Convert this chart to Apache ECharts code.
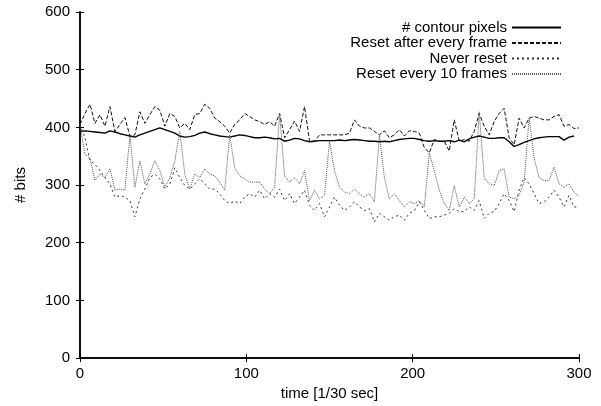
<!DOCTYPE html>
<html>
<head>
    <meta charset="UTF-8" />
    <title>bits per frame</title>
    <style>
        * { margin: 0; padding: 0; }
        html, body { width: 601px; height: 406px; background: #fff; }
        #chart { width: 601px; height: 406px; }
    </style>
</head>
<body>
    <div id="chart"></div>
    <script src="https://cdn.jsdelivr.net/npm/echarts@6/dist/echarts.min.js"></script>
    <script type="text/javascript">
        // samples every 3 time units
        var time = [];
        for (var t = 0; t <= 300; t += 3) time.push(t);

        var contourPixels = [
            393, 394, 393, 392, 391, 390, 394, 392, 389, 387,
            385, 383, 387, 390, 393, 396, 399, 396, 393, 390,
            385, 383, 384, 386, 390, 392, 389, 387, 385, 384,
            383, 385, 387, 386, 384, 382, 382, 383, 382, 380,
            381, 376, 378, 381, 380, 377, 375, 376, 377, 377,
            377, 377, 378, 377, 378, 379, 378, 377, 376, 376,
            375, 376, 375, 377, 379, 380, 381, 381, 379, 377,
            376, 377, 376, 376, 377, 375, 378, 375, 380, 383,
            385, 383, 381, 381, 382, 382, 375, 367, 370, 374,
            377, 380, 382, 383, 384, 384, 384, 378, 383, 385
        ];
        var resetEveryFrame = [
            405, 424, 440, 407, 422, 402, 436, 393, 405, 417,
            385, 387, 427, 407, 422, 436, 430, 402, 424, 419,
            399, 407, 396, 422, 424, 440, 433, 416, 410, 402,
            390, 405, 413, 424, 419, 413, 410, 405, 410, 402,
            424, 382, 396, 411, 393, 436, 376, 376, 387, 387,
            387, 387, 387, 387, 390, 413, 402, 399, 399, 393,
            387, 394, 382, 387, 396, 385, 394, 393, 390, 365,
            356, 379, 376, 376, 359, 413, 376, 379, 376, 393,
            424, 402, 387, 410, 424, 433, 382, 370, 416, 399,
            416, 419, 416, 413, 413, 419, 422, 402, 405, 398,
            399
        ];
        var neverReset = [
            405, 382, 342, 336, 325, 313, 302, 279, 282, 279,
            273, 245, 276, 293, 313, 319, 311, 293, 302, 330,
            313, 299, 293, 302, 311, 302, 293, 293, 285, 273,
            268, 272, 268, 279, 285, 279, 291, 276, 285, 279,
            293, 273, 285, 268, 279, 291, 265, 256, 268, 245,
            262, 279, 265, 256, 262, 271, 262, 256, 259, 236,
            251, 245, 239, 245, 248, 239, 251, 256, 271, 256,
            242, 245, 245, 248, 251, 259, 254, 254, 262, 256,
            273, 242, 251, 254, 268, 285, 273, 254, 291, 313,
            302, 285, 268, 271, 279, 291, 279, 262, 282, 262,
            262
        ];
        var resetEvery10 = [
            405, 353, 347, 308, 319, 313, 328, 291, 293, 291,
            387, 296, 342, 302, 319, 342, 325, 296, 313, 342,
            393, 319, 293, 319, 313, 328, 319, 316, 305, 291,
            387, 330, 316, 311, 305, 305, 305, 293, 285, 296,
            424, 316, 305, 313, 302, 325, 273, 291, 276, 282,
            376, 325, 296, 288, 285, 293, 285, 279, 285, 271,
            387, 313, 276, 285, 273, 262, 271, 268, 273, 262,
            356, 325, 291, 268, 256, 299, 262, 279, 268, 276,
            427, 313, 302, 299, 325, 328, 279, 276, 282, 305,
            416, 347, 313, 308, 308, 331, 302, 296, 302, 288,
            280
        ];

        function pairs(values) {
            return values.map(function (v, i) { return [time[i], v]; });
        }

        var font = "Liberation Sans, Arial, sans-serif";
        var axisLine = { lineStyle: { color: "#000", width: 1.5 } };
        var tick = { inside: true, length: 4, lineStyle: { color: "#000" } };

        var myChart = echarts.init(document.getElementById("chart"), null, { renderer: "canvas" });
        var option = {
            animation: false,
            backgroundColor: "#fff",
            textStyle: { fontFamily: font, color: "#000" },
            grid: { left: 80, right: 22, top: 12, bottom: 42 },
            legend: {
                orient: "vertical",
                align: "right",
                right: 39,
                top: 20,
                padding: 0,
                itemWidth: 49,
                itemHeight: 12,
                itemGap: 0.5,
                itemStyle: { opacity: 0 },
                textStyle: { fontSize: 15, lineHeight: 15, color: "#000", fontFamily: font },
                data: ["# contour pixels", "Reset after every frame", "Never reset", "Reset every 10 frames"]
            },
            xAxis: [
                {
                    type: "value", min: 0, max: 300, interval: 100,
                    name: "time [1/30 sec]", nameLocation: "middle", nameGap: 25,
                    nameTextStyle: { fontSize: 15, color: "#000" },
                    axisLine: axisLine,
                    axisTick: tick,
                    axisLabel: { fontSize: 15, color: "#000", margin: 8 },
                    splitLine: { show: false }
                },
                {
                    type: "value", min: 0, max: 300, interval: 100, position: "top",
                    axisLine: axisLine,
                    axisTick: tick,
                    axisLabel: { show: false },
                    splitLine: { show: false }
                }
            ],
            yAxis: [
                {
                    type: "value", min: 0, max: 600, interval: 100,
                    name: "# bits", nameLocation: "middle", nameGap: 52, nameRotate: 90,
                    nameTextStyle: { fontSize: 15, color: "#000" },
                    axisLine: axisLine,
                    axisTick: tick,
                    axisLabel: { fontSize: 15, color: "#000", margin: 10 },
                    splitLine: { show: false }
                },
                {
                    type: "value", min: 0, max: 600, interval: 100, position: "right",
                    axisLine: axisLine,
                    axisTick: tick,
                    axisLabel: { show: false },
                    splitLine: { show: false }
                }
            ],
            series: [
                {
                    name: "# contour pixels", type: "line", symbol: "none",
                    data: pairs(contourPixels),
                    lineStyle: { color: "#000", width: 1.4, type: "solid" },
                    itemStyle: { color: "#000" }
                },
                {
                    name: "Reset after every frame", type: "line", symbol: "none",
                    data: pairs(resetEveryFrame),
                    lineStyle: { color: "#111", width: 1, type: [4, 2] },
                    itemStyle: { color: "#111" }
                },
                {
                    name: "Never reset", type: "line", symbol: "none",
                    data: pairs(neverReset),
                    lineStyle: { color: "#333", width: 1, type: [2, 3] },
                    itemStyle: { color: "#333" }
                },
                {
                    name: "Reset every 10 frames", type: "line", symbol: "none",
                    data: pairs(resetEvery10),
                    lineStyle: { color: "#555", width: 1, type: [1, 1] },
                    itemStyle: { color: "#555" }
                }
            ]
        };
        myChart.setOption(option);
    </script>
</body>
</html>
